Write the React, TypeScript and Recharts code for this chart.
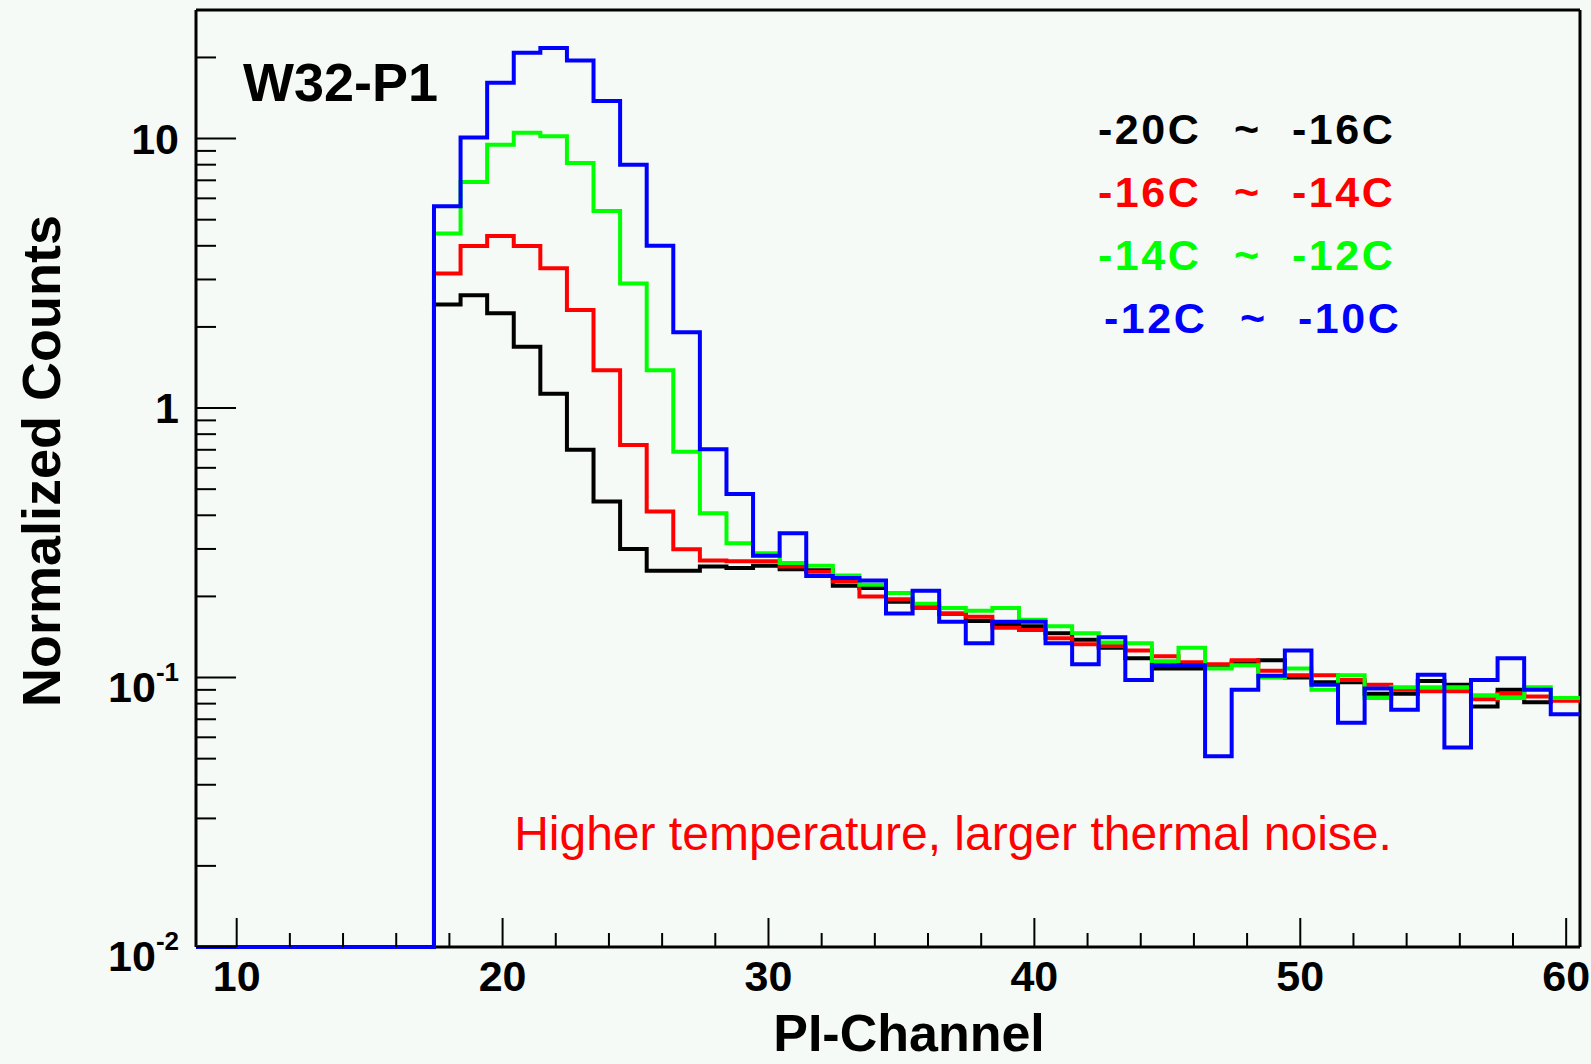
import React from 'react';
import { LineChart, Line, XAxis, YAxis, ReferenceLine, Legend } from 'recharts';

const WIDTH = 1591;
const HEIGHT = 1064;
const FONT = '"Liberation Sans", Arial, Helvetica, sans-serif';

const X_MIN = 8.47;
const X_MAX = 60.52;
const Y_MIN = 0.01;
const Y_MAX = 30;

// lower edge of each PI-channel bin
const binEdges = [
  17.42, 18.42, 19.42, 20.42, 21.42, 22.42, 23.42, 24.42, 25.42, 26.42,
  27.42, 28.42, 29.42, 30.42, 31.42, 32.42, 33.42, 34.42, 35.42, 36.42,
  37.42, 38.42, 39.42, 40.42, 41.42, 42.42, 43.42, 44.42, 45.42, 46.42,
  47.42, 48.42, 49.42, 50.42, 51.42, 52.42, 53.42, 54.42, 55.42, 56.42,
  57.42, 58.42, 59.42,
];

const black = [
  2.42, 2.62, 2.25, 1.69, 1.13, 0.7, 0.45, 0.3, 0.249, 0.249,
  0.258, 0.255, 0.26, 0.252, 0.25, 0.219, 0.215, 0.191, 0.184, 0.173,
  0.162, 0.157, 0.155, 0.146, 0.138, 0.129, 0.118, 0.108, 0.108, 0.111,
  0.114, 0.116, 0.1, 0.096, 0.096, 0.087, 0.087, 0.097, 0.094, 0.078,
  0.09, 0.081, 0.083,
];

const red = [
  3.16, 3.99, 4.35, 3.99, 3.3, 2.31, 1.38, 0.73, 0.413, 0.299,
  0.272, 0.27, 0.27, 0.258, 0.247, 0.227, 0.2, 0.195, 0.181, 0.172,
  0.168, 0.153, 0.15, 0.14, 0.133, 0.131, 0.126, 0.12, 0.114, 0.112,
  0.116, 0.106, 0.102, 0.102, 0.098, 0.094, 0.09, 0.089, 0.089, 0.083,
  0.087, 0.085, 0.082,
];

const green = [
  4.44, 6.9, 9.48, 10.5, 10.2, 8.11, 5.38, 2.9, 1.38, 0.689,
  0.407, 0.315, 0.289, 0.266, 0.26, 0.239, 0.221, 0.206, 0.188, 0.181,
  0.177, 0.181, 0.164, 0.155, 0.146, 0.135, 0.134, 0.115, 0.129, 0.108,
  0.111, 0.1, 0.108, 0.09, 0.102, 0.084, 0.092, 0.092, 0.092, 0.086,
  0.084, 0.092, 0.084,
];

const blue = [
  5.61, 10.1, 16.1, 20.8, 21.7, 19.5, 13.8, 8.0, 4.0, 1.91,
  0.703, 0.48, 0.283, 0.343, 0.238, 0.234, 0.229, 0.173, 0.21, 0.161,
  0.134, 0.161, 0.161, 0.134, 0.112, 0.141, 0.098, 0.111, 0.111, 0.051,
  0.09, 0.1016, 0.126, 0.094, 0.068, 0.091, 0.076, 0.1025, 0.055, 0.098,
  0.118, 0.09, 0.073,
];

const xTicks = [10, 12, 14, 16, 18, 20, 22, 24, 26, 28, 30, 32, 34, 36, 38, 40, 42, 44, 46, 48, 50, 52, 54, 56, 58, 60];
const xMajorTicks = [10, 20, 30, 40, 50, 60];

const yTicks = [
  0.01, 0.02, 0.03, 0.04, 0.05, 0.06, 0.07, 0.08, 0.09,
  0.1, 0.2, 0.3, 0.4, 0.5, 0.6, 0.7, 0.8, 0.9,
  1, 2, 3, 4, 5, 6, 7, 8, 9,
  10, 20,
];
const yMajorTicks = [0.01, 0.1, 1, 10];
const yMajorLabels = [['10', '-2'], ['10', '-1'], ['1', ''], ['10', '']];

const series = [
  { key: 'black', name: '-20C ~ -16C', color: '#000000' },
  { key: 'red', name: '-16C ~ -14C', color: '#ff0000' },
  { key: 'green', name: '-14C ~ -12C', color: '#00ff00' },
  { key: 'blue', name: '-12C ~ -10C', color: '#0000ff' },
];
const legendIndent = [0, 0, 0, 6];

const last = binEdges.length - 1;
const data = [
  { x: X_MIN, black: Y_MIN, red: Y_MIN, green: Y_MIN, blue: Y_MIN },
  ...binEdges.map((x, i) => ({ x, black: black[i], red: red[i], green: green[i], blue: blue[i] })),
  { x: X_MAX, black: black[last], red: red[last], green: green[last], blue: blue[last] },
];

const XTick = (props: any) => {
  const { x, y, payload } = props;
  const major = xMajorTicks.includes(payload.value);
  return (
    <g>
      <line x1={x} y1={y} x2={x} y2={y - (major ? 29 : 14)} stroke="#000" strokeWidth={2} />
      {major && (
        <text x={x} y={y + 44} textAnchor="middle" fontFamily={FONT} fontWeight="bold" fontSize={43} fill="#000">
          {payload.value}
        </text>
      )}
    </g>
  );
};

const YTick = (props: any) => {
  const { x, y, payload } = props;
  const idx = yMajorTicks.findIndex((v) => Math.abs(v - payload.value) < 1e-9);
  const major = idx >= 0;
  const [base, exp] = major ? yMajorLabels[idx] : ['', ''];
  return (
    <g>
      <line x1={x} y1={y} x2={x + (major ? 40 : 20)} y2={y} stroke="#000" strokeWidth={2} />
      {major && (
        <text x={x - 17} y={y + (exp ? 24 : 15)} textAnchor="end" fontFamily={FONT} fontWeight="bold" fontSize={43} fill="#000">
          {base}
          {exp && (
            <tspan dy={-21} fontSize={26}>
              {exp}
            </tspan>
          )}
        </text>
      )}
    </g>
  );
};

const renderLegend = (props: any) => {
  const payload: any[] = props.payload || [];
  const ordered = series.map(
    (s) => payload.find((p: any) => p.dataKey === s.key) || { value: s.name, color: s.color }
  );
  return (
    <div style={{ fontFamily: FONT, fontWeight: 'bold', fontSize: 43, letterSpacing: 2.5 }}>
      {ordered.map((entry: any, i: number) => {
        const [lo, hi] = String(entry.value).split('~').map((s) => s.trim());
        return (
          <div key={i} style={{ position: 'relative', height: 63, lineHeight: '63px', color: entry.color, whiteSpace: 'nowrap' }}>
            <span style={{ position: 'absolute', left: legendIndent[i] }}>{lo}</span>
            <span style={{ position: 'absolute', left: 136 + legendIndent[i] }}>~</span>
            <span style={{ position: 'absolute', left: 194 + legendIndent[i] }}>{hi}</span>
          </div>
        );
      })}
    </div>
  );
};

export default function App() {
  return (
    <div style={{ position: 'absolute', left: 0, top: 0, width: WIDTH, height: HEIGHT, background: '#f6faf7', overflow: 'hidden' }}>
      <LineChart width={WIDTH} height={HEIGHT} data={data} margin={{ top: 10, right: 11, bottom: 0, left: 0 }}>
        <XAxis
          dataKey="x"
          type="number"
          domain={[X_MIN, X_MAX]}
          ticks={xTicks}
          interval={0}
          tick={(p: any) => <XTick {...p} />}
          tickLine={false}
          tickSize={0}
          tickMargin={0}
          axisLine={{ stroke: '#000', strokeWidth: 3 }}
          height={117}
        />
        <YAxis
          type="number"
          scale="log"
          domain={[Y_MIN, Y_MAX]}
          ticks={yTicks}
          interval={0}
          tick={(p: any) => <YTick {...p} />}
          tickLine={false}
          tickSize={0}
          tickMargin={0}
          axisLine={{ stroke: '#000', strokeWidth: 3 }}
          width={196}
        />
        <ReferenceLine y={Y_MAX} stroke="#000" strokeWidth={3} />
        <ReferenceLine x={X_MAX} stroke="#000" strokeWidth={3} />
        {series.map((s) => (
          <Line
            key={s.key}
            dataKey={s.key}
            name={s.name}
            type="stepAfter"
            stroke={s.color}
            strokeWidth={4}
            strokeLinejoin="miter"
            dot={false}
            activeDot={false}
            isAnimationActive={false}
            zIndex={700}
          />
        ))}
        <Legend
          layout="vertical"
          align="center"
          verticalAlign="middle"
          content={renderLegend}
          wrapperStyle={{ left: 1098, top: 98, width: 340 }}
        />
      </LineChart>
      <svg width={WIDTH} height={HEIGHT} style={{ position: 'absolute', left: 0, top: 0, pointerEvents: 'none' }}>
        <text x={243} y={101} fontFamily={FONT} fontWeight="bold" fontSize={54} fill="#000">
          W32-P1
        </text>
        <text x={953} y={850} textAnchor="middle" fontFamily={FONT} fontSize={48} fill="#ff0000">
          Higher temperature, larger thermal noise.
        </text>
        <text transform="translate(60, 461) rotate(-90)" textAnchor="middle" fontFamily={FONT} fontWeight="bold" fontSize={54} fill="#000">
          Normalized Counts
        </text>
        <text x={909} y={1051} textAnchor="middle" fontFamily={FONT} fontWeight="bold" fontSize={52} fill="#000">
          PI-Channel
        </text>
      </svg>
    </div>
  );
}
